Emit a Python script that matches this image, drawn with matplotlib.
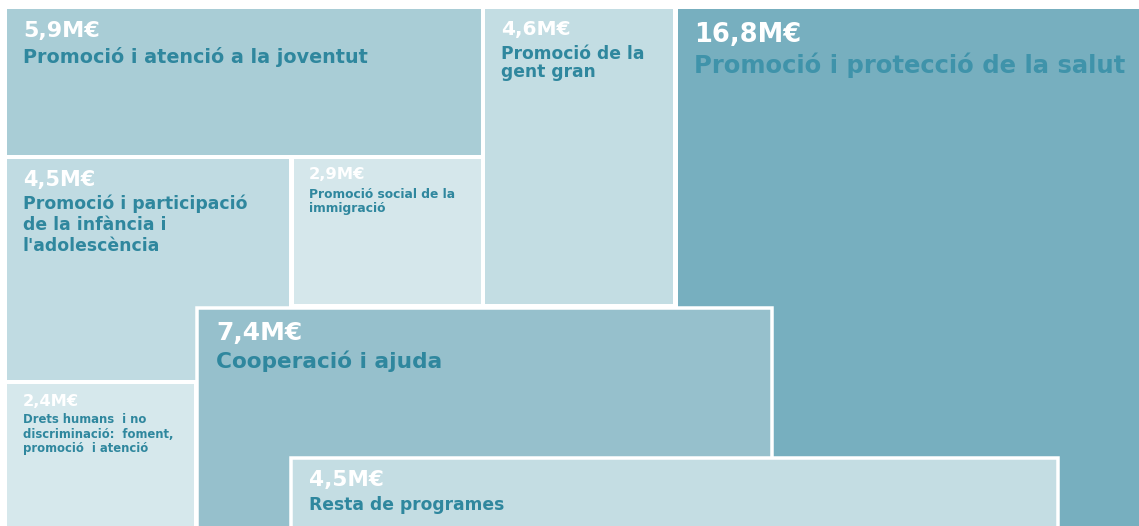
import matplotlib
matplotlib.use("Agg")
import matplotlib.pyplot as plt
from matplotlib.patches import Rectangle

# Budget per programme (millions of euros)
programes = [
    "Promoció i atenció a la joventut",
    "Promoció i participació\nde la infància i\nl'adolescència",
    "Promoció social de la\nimmigració",
    "Promoció de la\ngent gran",
    "Promoció i protecció de la salut",
    "Drets humans  i no\ndiscriminació:  foment,\npromoció  i atenció",
    "Cooperació i ajuda",
    "Resta de programes",
]
imports = [5.9, 4.5, 2.9, 4.6, 16.8, 2.4, 7.4, 4.5]

# Layout of the boxes in pixels: (x0, y0, x1, y1), drawn in this order
caixes = [
    (7, 9, 481, 155),
    (7, 159, 289, 380),
    (294, 159, 481, 304),
    (485, 9, 673, 304),
    (678, 9, 1139, 526),
    (7, 384, 194, 526),
    (197, 307.5, 772, 530),
    (291, 458, 1058, 530),
]
colors = ["#a9cdd6", "#c0dbe2", "#d5e7eb", "#c3dde3",
          "#77afbf", "#d6e8ec", "#96c0cc", "#c4dde3"]
vores = [0, 0, 0, 0, 0, 0, 3.5, 3.5]   # white border in px

# text: x, value baseline, first label baseline, line step, value size, label size
textos = [
    (23, 37, 63, 0, 16, 13.8),
    (23, 186, 209, 21, 15, 12.4),
    (309, 179, 198, 14, 11.8, 8.8),
    (501, 35, 59, 18, 14.5, 12.3),
    (694, 42, 73, 0, 18.5, 17.5),
    (23, 406, 423, 14.5, 11.7, 8.4),
    (216, 340, 368, 0, 18, 15.6),
    (309, 486, 510, 0, 15.6, 12.3),
]
color_text = ["#2f879e"] * 8
color_text[4] = "#3f93aa"

W, H = 1139, 526
fig = plt.figure(figsize=(W / 100, H / 100), dpi=100)
ax = fig.add_axes([0, 0, 1, 1])
ax.set_xlim(0, W)
ax.set_ylim(H, 0)
ax.axis("off")

px = 72 / 100  # points per pixel

for i, (x0, y0, x1, y1) in enumerate(caixes):
    rect = Rectangle((x0, y0), x1 - x0, y1 - y0, facecolor=colors[i],
                     edgecolor="white" if vores[i] else "none",
                     linewidth=vores[i] * px, zorder=i + 1)
    ax.add_patch(rect)

    tx, yv, yl, pas, fv, fl = textos[i]
    valor = f"{imports[i]:.1f}".replace(".", ",") + "M€"
    ax.text(tx, yv, valor, color="white", fontsize=fv, fontweight="bold",
            family="DejaVu Sans", va="baseline", ha="left", zorder=i + 1.5)
    for k, linia in enumerate(programes[i].split("\n")):
        ax.text(tx, yl + k * pas, linia, color=color_text[i], fontsize=fl,
                fontweight="bold", family="DejaVu Sans", va="baseline",
                ha="left", zorder=i + 1.5)

fig.savefig("out.png", dpi=100, facecolor="white")
